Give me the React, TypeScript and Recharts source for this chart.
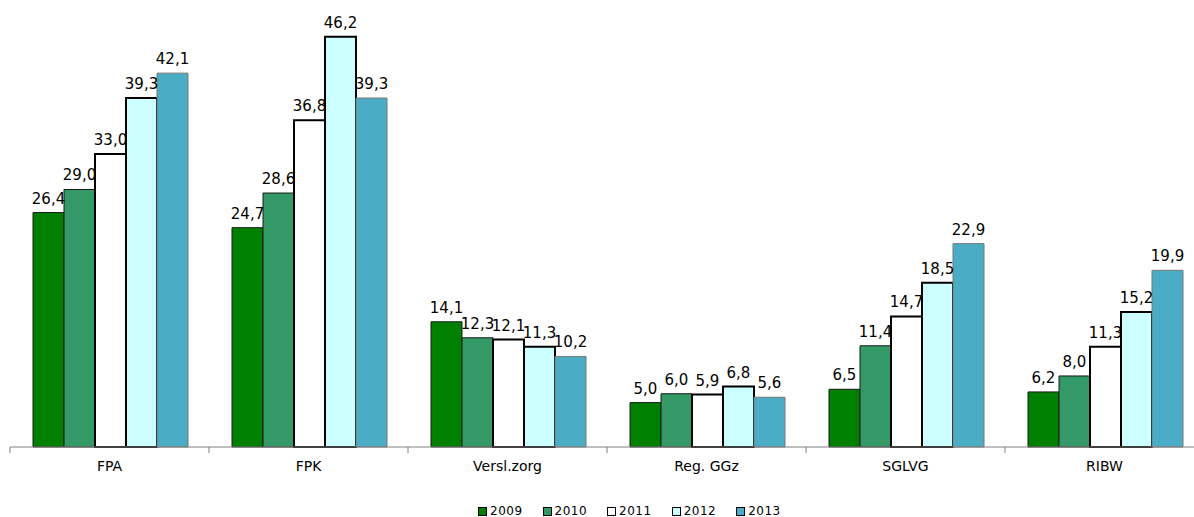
import React from 'react';
import { BarChart, Bar, XAxis, YAxis, Legend, LabelList } from 'recharts';

const categories = ['FPA', 'FPK', 'Versl.zorg', 'Reg. GGz', 'SGLVG', 'RIBW'];
const years = ['2009', '2010', '2011', '2012', '2013'];
const v2009 = [26.4, 24.7, 14.1, 5.0, 6.5, 6.2];
const v2010 = [29.0, 28.6, 12.3, 6.0, 11.4, 8.0];
const v2011 = [33.0, 36.8, 12.1, 5.9, 14.7, 11.3];
const v2012 = [39.3, 46.2, 11.3, 6.8, 18.5, 15.2];
const v2013 = [42.1, 39.3, 10.2, 5.6, 22.9, 19.9];

const seriesValues = [v2009, v2010, v2011, v2012, v2013];
const fills = ['#008000', '#339966', '#ffffff', '#ccffff', '#4bacc6'];
const strokes = ['#1a1a1a', '#1a1a1a', '#000000', '#000000', '#777777'];
const strokeWidths = [1, 1, 2, 2, 1];

const data = categories.map((name, i) => {
  const row: Record<string, string | number> = { name };
  years.forEach((y, s) => {
    row[y] = seriesValues[s][i];
  });
  return row;
});

const CHART_W = 1212;
const LEFT = 10;
const RIGHT = 8;
const BAND = (CHART_W - LEFT - RIGHT) / categories.length;

const fmt = (v: any) => Number(v).toFixed(1).replace('.', ',');

const CategoryTick = (props: any) => {
  const { x, y, payload, index } = props;
  const half = BAND / 2;
  return (
    <g>
      <line x1={x - half} x2={x - half} y1={y - 8} y2={y - 2} stroke="#808080" />
      {index === categories.length - 1 && (
        <line x1={x + half} x2={x + half} y1={y - 8} y2={y - 2} stroke="#808080" />
      )}
      <text x={x} y={y + 16} textAnchor="middle" fontSize={14} fill="#000" fontFamily="DejaVu Sans, Verdana, sans-serif">
        {payload.value}
      </text>
    </g>
  );
};

const LegendContent = () => (
  <div style={{ display: 'flex', fontFamily: 'DejaVu Sans, Verdana, sans-serif', fontSize: 12, lineHeight: '14px', color: '#000' }}>
    {years.map((y, i) => (
      <div key={y} style={{ display: 'flex', alignItems: 'center', marginRight: 20 }}>
        <span style={{ width: 7, height: 7, background: fills[i], border: '1px solid #000', marginRight: 3, display: 'inline-block' }} />
        <span style={{ letterSpacing: 0.5 }}>{y}</span>
      </div>
    ))}
  </div>
);

export default function App() {
  return (
    <div style={{ position: 'absolute', left: 0, top: 0, width: 1194, height: 517, overflow: 'hidden', background: '#fff' }}>
      <BarChart
        width={CHART_W}
        height={517}
        data={data}
        margin={{ top: 3, right: RIGHT, left: LEFT, bottom: 0 }}
        barGap={0}
        barCategoryGap={23}
      >
        <XAxis
          dataKey="name"
          height={30}
          axisLine={{ stroke: '#808080' }}
          tickLine={false}
          tick={<CategoryTick />}
          interval={0}
        />
        <YAxis hide domain={[0, 50]} />
        <Legend
          verticalAlign="bottom"
          height={40}
          content={<LegendContent />}
          wrapperStyle={{ left: 478, top: 504, bottom: 'auto', width: 'auto' }}
        />
        {years.map((y, i) => (
          <Bar
            key={y}
            dataKey={y}
            fill={fills[i]}
            stroke={strokes[i]}
            strokeWidth={strokeWidths[i]}
            isAnimationActive={false}
          >
            <LabelList
              dataKey={y}
              position="top"
              offset={9}
              formatter={fmt}
              fill="#000"
              fontSize={15}
              fontFamily="DejaVu Sans, Verdana, sans-serif"
            />
          </Bar>
        ))}
      </BarChart>
    </div>
  );
}
